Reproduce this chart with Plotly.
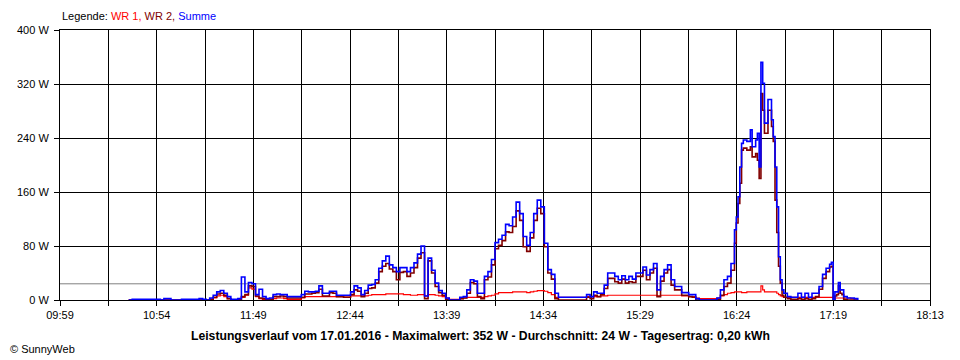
import plotly.graph_objects as go

# ---------------- data ----------------
times = [
    "10:38", "10:40", "10:42", "10:44", "10:46", "10:48", "10:50", "10:52", "10:54", "10:56",
    "10:58", "11:00", "11:02", "11:04", "11:06", "11:08", "11:10", "11:12", "11:14", "11:16",
    "11:18", "11:20", "11:22", "11:24", "11:26", "11:28", "11:30", "11:32", "11:34", "11:36",
    "11:38", "11:40", "11:42", "11:44", "11:46", "11:48", "11:50", "11:52", "11:54", "11:56",
    "11:58", "12:00", "12:02", "12:04", "12:06", "12:08", "12:10", "12:12", "12:14", "12:16",
    "12:18", "12:20", "12:22", "12:24", "12:26", "12:28", "12:30", "12:32", "12:34", "12:36",
    "12:38", "12:40", "12:42", "12:44", "12:46", "12:48", "12:50", "12:52", "12:54", "12:56",
    "12:58", "13:00", "13:02", "13:04", "13:06", "13:08", "13:10", "13:12", "13:14", "13:16",
    "13:18", "13:20", "13:22", "13:24", "13:26", "13:28", "13:30", "13:32", "13:34", "13:36",
    "13:38", "13:40", "13:42", "13:44", "13:46", "13:48", "13:50", "13:52", "13:54", "13:56",
    "13:58", "14:00", "14:02", "14:04", "14:06", "14:08", "14:10", "14:12", "14:14", "14:16",
    "14:18", "14:20", "14:22", "14:24", "14:26", "14:28", "14:30", "14:32", "14:34", "14:36",
    "14:38", "14:40", "14:42", "14:44", "14:46", "14:48", "14:50", "14:52", "14:54", "14:56",
    "14:58", "15:00", "15:02", "15:04", "15:06", "15:08", "15:10", "15:12", "15:14", "15:16",
    "15:18", "15:20", "15:22", "15:24", "15:26", "15:28", "15:30", "15:32", "15:34", "15:36",
    "15:38", "15:40", "15:42", "15:44", "15:46", "15:48", "15:50", "15:52", "15:54", "15:56",
    "15:58", "16:00", "16:02", "16:04", "16:06", "16:08", "16:10", "16:12", "16:14", "16:16",
    "16:18", "16:20", "16:22", "16:23", "16:24", "16:25", "16:26", "16:27", "16:28", "16:29",
    "16:30", "16:31", "16:32", "16:33", "16:34", "16:35", "16:36", "16:37", "16:38", "16:39",
    "16:40", "16:41", "16:42", "16:43", "16:44", "16:45", "16:46", "16:47", "16:48", "16:49",
    "16:50", "16:52", "16:54", "16:56", "16:58", "17:00", "17:02", "17:04", "17:06", "17:08",
    "17:10", "17:12", "17:14", "17:16", "17:17", "17:18", "17:19", "17:20", "17:21", "17:22",
    "17:23", "17:24", "17:26", "17:28", "17:30", "17:32",
]

summe = [
    0, 1, 1, 1, 1, 1, 1, 1, 1, 0,
    2, 2, 0, 0, 0, 1, 1, 1, 1, 1,
    2, 1, 0, 3, 7, 12, 14, 10, 5, 1,
    1, 2, 34, 12, 26, 24, 8, 16, 5, 2,
    3, 8, 9, 8, 8, 5, 5, 5, 5, 8,
    13, 12, 12, 13, 21, 10, 10, 13, 13, 7,
    7, 7, 7, 12, 21, 18, 8, 14, 22, 23,
    30, 47, 58, 65, 52, 48, 42, 48, 48, 42,
    48, 55, 68, 80, 6, 62, 44, 25, 14, 10,
    3, 0, 0, 0, 4, 5, 15, 30, 28, 10,
    10, 35, 42, 60, 85, 90, 96, 112, 110, 123,
    145, 128, 94, 81, 100, 128, 148, 138, 84, 45,
    38, 10, 4, 4, 4, 4, 4, 4, 4, 4,
    8, 5, 12, 10, 10, 22, 40, 40, 35, 30,
    36, 30, 35, 31, 40, 40, 49, 37, 45, 54,
    15, 35, 45, 52, 30, 20, 20, 11, 11, 8,
    8, 2, 0, 0, 0, 0, 0, 3, 15, 30,
    35, 54, 104, 123, 153, 197, 232, 237, 237, 235,
    235, 252, 227, 227, 237, 247, 197, 352, 321, 262,
    262, 297, 297, 267, 242, 197, 138, 64, 30, 15,
    10, 5, 4, 4, 10, 4, 10, 4, 10, 10,
    20, 38, 47, 53, 56, 0, 12, 12, 26, 15,
    15, 5, 3, 3, 2, 0,
]

wr2 = [
    0, 0, 0, 0, 0, 0, 0, 0, 0, 0,
    0, 0, 0, 0, 0, 0, 0, 0, 0, 0,
    0, 0, 0, 1, 4, 9, 10, 7, 2, 0,
    0, 0, 5, 8, 21, 20, 6, 3, 2, 1,
    1, 5, 5, 6, 5, 3, 3, 3, 3, 4,
    9, 9, 10, 11, 16, 6, 6, 11, 10, 5,
    5, 4, 4, 8, 15, 13, 5, 10, 17, 18,
    25, 42, 50, 54, 46, 42, 30, 41, 42, 35,
    40, 48, 62, 70, 2, 58, 40, 20, 11, 7,
    1, 0, 0, 0, 2, 3, 10, 26, 24, 5,
    2, 30, 34, 52, 76, 81, 88, 101, 100, 109,
    132, 118, 79, 72, 92, 118, 136, 128, 79, 40,
    31, 2, 0, 0, 0, 0, 0, 0, 0, 0,
    4, 2, 7, 5, 8, 17, 32, 32, 27, 25,
    31, 25, 27, 26, 35, 35, 44, 30, 40, 47,
    5, 28, 40, 45, 22, 15, 15, 7, 7, 5,
    4, 0, 0, 0, 0, 0, 0, 1, 7, 20,
    25, 44, 84, 114, 143, 173, 222, 225, 225, 222,
    222, 227, 212, 212, 217, 207, 180, 306, 281, 247,
    247, 281, 281, 257, 235, 148, 100, 50, 25, 7,
    4, 2, 1, 1, 2, 1, 2, 1, 2, 5,
    16, 32, 42, 49, 50, 0, 6, 8, 21, 10,
    8, 1, 0, 0, 0, 0,
]

wr1 = [
    0, 0, 0, 0, 0, 0, 0, 0, 0, 0,
    0, 0, 0, 0, 0, 0, 0, 0, 0, 0,
    0, 0, 0, 1, 3, 6, 7, 5, 2, 0,
    0, 1, 4, 7, 18, 16, 5, 2, 1, 1,
    1, 2, 3, 3, 2, 1, 1, 1, 1, 3,
    5, 5, 5, 5, 5, 5, 5, 5, 5, 5,
    5, 6, 6, 6, 6, 6, 6, 6, 7, 8,
    8, 8, 8, 9, 9, 9, 9, 9, 8, 8,
    7, 7, 8, 8, 6, 8, 8, 7, 6, 5,
    3, 1, 1, 1, 2, 3, 4, 4, 4, 4,
    4, 5, 6, 7, 9, 11, 11, 11, 11, 12,
    12, 12, 12, 11, 12, 13, 14, 14, 13, 11,
    8, 4, 4, 4, 4, 4, 4, 4, 4, 4,
    5, 5, 5, 5, 6, 6, 7, 7, 7, 7,
    7, 7, 7, 7, 7, 7, 7, 7, 7, 7,
    6, 7, 7, 7, 7, 7, 7, 6, 6, 5,
    5, 3, 2, 2, 2, 2, 2, 3, 6, 8,
    10, 11, 12, 12, 12, 12, 11, 11, 11, 12,
    12, 12, 12, 12, 12, 12, 12, 21, 15, 12,
    12, 12, 12, 12, 12, 12, 10, 8, 6, 5,
    4, 4, 4, 4, 4, 4, 4, 4, 4, 4,
    4, 4, 4, 4, 4, 3, 3, 3, 3, 3,
    3, 3, 3, 2, 0, 0,
]

x_labels = ["09:59", "10:54", "11:49", "12:44", "13:39", "14:34", "15:29", "16:24", "17:19", "18:13"]
y_ticks = [0, 80, 160, 240, 320, 400]
y_labels = ["0 W", "80 W", "160 W", "240 W", "320 W", "400 W"]
average_w = 24
series_names = ["WR 1", "WR 2", "Summe"]
series_colors = ["#FF0000", "#800000", "#0000FF"]
bottom_title = ("Leistungsverlauf vom 17.01.2016 - Maximalwert: 352 W - "
                "Durchschnitt: 24 W - Tagesertrag: 0,20 kWh")
credit = "© SunnyWeb"

assert len(times) == len(summe) == len(wr2) == len(wr1), (len(times), len(summe), len(wr2), len(wr1))


def to_min(t):
    h, m = t.split(":")
    return int(h) * 60 + int(m)


x = [to_min(t) for t in times]
x0, x1 = to_min(x_labels[0]), to_min(x_labels[-1])
n_grid = 2 * (len(x_labels) - 1)
tickvals = [x0 + i * (x1 - x0) / n_grid for i in range(n_grid + 1)]
ticktext = [x_labels[i // 2] if i % 2 == 0 else "" for i in range(n_grid + 1)]

FONT = "Liberation Sans, Arial, sans-serif"

# page body has an 8px default margin -> figure is 8px smaller, plot area lands at 60..930 x 30..300
ML, MT, PW, PH = 52, 22, 870, 270

fig = go.Figure()
for name, vals, col, w in zip(series_names, [wr1, wr2, summe], series_colors, [1.2, 1.6, 1.6]):
    fig.add_trace(go.Scatter(x=x, y=vals, mode="lines", name=name,
                             line=dict(color=col, width=w, shape="hv"),
                             hoverinfo="skip"))

fig.add_shape(type="line", xref="paper", x0=0, x1=1, yref="y", y0=average_w, y1=average_w,
              line=dict(color="#808080", width=1), layer="below")

legend_html = ("Legende: " + "".join(
    f"<span style='color:{c}'>{n}{',' if i < 2 else ''}</span>{' ' if i < 2 else ''}"
    for i, (n, c) in enumerate(zip(series_names, series_colors))))

fig.add_annotation(text=legend_html, xref="paper", yref="paper", x=0, y=(300 - 16) / 270,
                   xanchor="left", yanchor="middle", showarrow=False,
                   font=dict(family=FONT, size=11, color="black"))
fig.add_annotation(text="<b>" + bottom_title + "</b>", xref="paper", yref="paper",
                   x=(480 - 60) / 870, y=(300 - 336) / 270, xanchor="center", yanchor="middle",
                   showarrow=False, font=dict(family=FONT, size=12.2, color="black"))
fig.add_annotation(text=credit, xref="paper", yref="paper", x=-ML / PW, y=(300 - 349) / 270,
                   xanchor="left", yanchor="middle", showarrow=False,
                   font=dict(family=FONT, size=11, color="black"))

fig.update_layout(
    width=ML + PW + 30, height=MT + PH + 60,
    margin=dict(l=ML, r=30, t=MT, b=60),
    paper_bgcolor="white", plot_bgcolor="white",
    showlegend=False,
    font=dict(family=FONT, size=11, color="black"),
    xaxis=dict(range=[x0, x1], tickmode="array", tickvals=tickvals, ticktext=ticktext,
               showgrid=True, gridcolor="black", gridwidth=1, zeroline=False,
               ticks="outside", ticklen=5, tickcolor="black", tickwidth=1,
               showline=True, linecolor="black", linewidth=1, mirror=True,
               automargin=False,
               tickfont=dict(family=FONT, size=11, color="black")),
    yaxis=dict(range=[0, 400], tickmode="array", tickvals=y_ticks, ticktext=y_labels,
               showgrid=True, gridcolor="black", gridwidth=1, zeroline=False,
               ticks="outside", ticklen=5, tickcolor="black", tickwidth=1,
               ticklabelstandoff=3, automargin=False,
               showline=True, linecolor="black", linewidth=1, mirror=True,
               tickfont=dict(family=FONT, size=11, color="black")),
)

fig.write_html("out.html")
